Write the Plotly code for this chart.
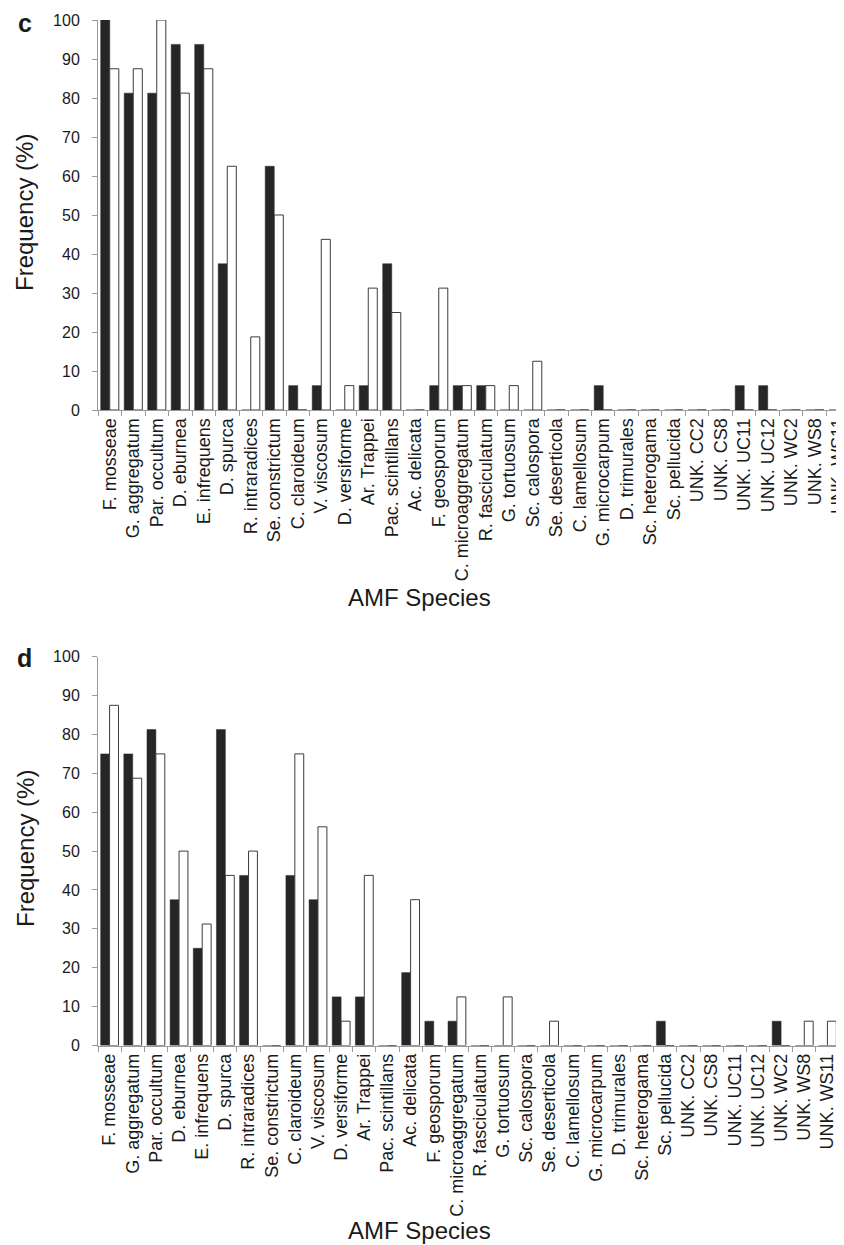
import plotly.graph_objects as go

species = ["F. mosseae", "G. aggregatum", "Par. occultum", "D. eburnea", "E. infrequens",
           "D. spurca", "R. intraradices", "Se. constrictum", "C. claroideum", "V. viscosum",
           "D. versiforme", "Ar. Trappei", "Pac. scintillans", "Ac. delicata", "F. geosporum",
           "C. microaggregatum", "R. fasciculatum", "G. tortuosum", "Sc. calospora",
           "Se. deserticola", "C. lamellosum", "G. microcarpum", "D. trimurales",
           "Sc. heterogama", "Sc. pellucida", "UNK. CC2", "UNK. CS8", "UNK. UC11",
           "UNK. UC12", "UNK. WC2", "UNK. WS8", "UNK. WS11"]

c_black = [100, 81.25, 81.25, 93.75, 93.75, 37.5, 0, 62.5, 6.25, 6.25,
           0, 6.25, 37.5, 0, 6.25, 6.25, 6.25, 0, 0,
           0, 0, 6.25, 0, 0, 0, 0, 0, 6.25, 6.25, 0, 0, 0]
c_white = [87.5, 87.5, 100, 81.25, 87.5, 62.5, 18.75, 50, 0, 43.75,
           6.25, 31.25, 25, 0, 31.25, 6.25, 6.25, 6.25, 12.5,
           0, 0, 0, 0, 0, 0, 0, 0, 0, 0, 0, 0, 0]

d_black = [75, 75, 81.25, 37.5, 25, 81.25, 43.75, 0, 43.75, 37.5,
           12.5, 12.5, 0, 18.75, 6.25, 6.25, 0, 0, 0,
           0, 0, 0, 0, 0, 6.25, 0, 0, 0, 0, 6.25, 0, 0]
d_white = [87.5, 68.75, 75, 50, 31.25, 43.75, 50, 0, 75, 56.25,
           6.25, 43.75, 0, 37.5, 0, 12.5, 0, 12.5, 0,
           6.25, 0, 0, 0, 0, 0, 0, 0, 0, 0, 0, 6.25, 6.25]

y_ticks = [0, 10, 20, 30, 40, 50, 60, 70, 80, 90, 100]

# page body has an 8px margin: lay the figure out in window pixels minus that offset
OFF = 8
W, H = 844 - OFF, 1245 - OFF
FONT = "Arial, Liberation Sans, sans-serif"
BLACK = "#262626"
AXIS = "#9a9a9a"

def fx(px):
    return (px - OFF) / W

def fy(py):
    return 1 - (py - OFF) / H

fig = go.Figure()

panels = [("x", "y", c_black, c_white), ("x2", "y2", d_black, d_white)]
for xa, ya, blk, wht in panels:
    fig.add_trace(go.Bar(x=species, y=blk, xaxis=xa, yaxis=ya,
                         marker=dict(color=BLACK, line=dict(color=BLACK, width=0.5)),
                         showlegend=False))
    fig.add_trace(go.Bar(x=species, y=wht, xaxis=xa, yaxis=ya,
                         marker=dict(color="white", line=dict(color="#3c3c3c", width=1)),
                         showlegend=False))

xcommon = dict(type="category", showgrid=False, zeroline=False, showline=True,
               linecolor=AXIS, linewidth=1, ticks="outside", ticklen=5, tickcolor=AXIS,
               tickson="boundaries", tickangle=-90, automargin=False,
               tickfont=dict(family=FONT, size=18, color="#1a1a1a"))
ycommon = dict(range=[0, 100], tickvals=y_ticks, showgrid=False, zeroline=False,
               showline=True, linecolor=AXIS, linewidth=1, ticks="outside", ticklen=5,
               tickcolor=AXIS, ticklabelstandoff=9, automargin=False,
               tickfont=dict(family=FONT, size=16, color="#1a1a1a"))

fig.update_layout(
    template="none",
    width=W, height=H,
    margin=dict(l=0, r=0, t=0, b=0, pad=0),
    paper_bgcolor="white", plot_bgcolor="white",
    barmode="group", bargap=0.23, bargroupgap=0,
    xaxis=dict(xcommon, domain=[fx(98), 1.0], range=[-0.5, 31.245], anchor="y"),
    yaxis=dict(ycommon, domain=[fy(410), fy(20)], anchor="x"),
    xaxis2=dict(xcommon, domain=[fx(98), fx(839)], range=[-0.5, 31.5], anchor="y2"),
    yaxis2=dict(ycommon, domain=[fy(1045.5), fy(656.7)], anchor="x2"),
)

def ann(text, px, py, size, bold=False, angle=0):
    fig.add_annotation(text=f"<b>{text}</b>" if bold else text,
                       x=fx(px), y=fy(py), xref="paper", yref="paper",
                       xanchor="center", yanchor="middle", showarrow=False,
                       textangle=angle,
                       font=dict(family=FONT, size=size, color="#1a1a1a"))

ann("c", 24.5, 23, 25, bold=True)
ann("d", 24.5, 658, 25, bold=True)
ann("Frequency (%)", 25, 213, 24, angle=-90)
ann("Frequency (%)", 25, 849, 24, angle=-90)
ann("AMF Species", 419, 597, 24)
ann("AMF Species", 419, 1230, 24)

fig.write_html("out.html")
